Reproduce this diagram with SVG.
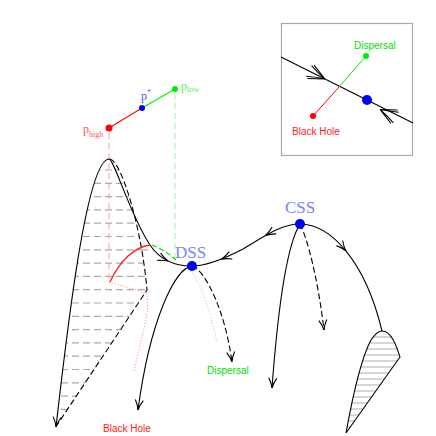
<svg xmlns="http://www.w3.org/2000/svg" xmlns:xlink="http://www.w3.org/1999/xlink" width="436" height="436" viewBox="0 0 436 436">
<style>
.c{fill:none;stroke:#000;stroke-width:1.1}
.d{fill:none;stroke:#000;stroke-width:1.1;stroke-dasharray:6 3}
.h{stroke:#aaa;stroke-width:1.2;stroke-dasharray:7 4}
.hs{stroke:#999;stroke-width:0.8}
.sans{font-family:"Liberation Sans",Arial,sans-serif;font-size:10px}
.ser{font-family:"Liberation Serif","Times New Roman",serif}
.lbl{font-family:"Liberation Serif","Times New Roman",serif;font-size:17px;fill:#8080ff}
</style>
<defs>
<path id="ah" d="M-10,-4 Q-5,-1 0,0 Q-5,1 -10,4" fill="none" stroke="#000" stroke-width="1.1"/>
<path id="ahb" d="M-18,-6 Q-8,-2 0,0 Q-8,2 -18,6 M-16,-7.5 L0,0 M-16,7.5 L0,0" fill="none" stroke="#000" stroke-width="1"/>
<clipPath id="clipL"><path d="M56,427 C66,340 86,160 109,159 C122,162 142,230 147,290 Z"/></clipPath>
<clipPath id="clipR"><path d="M382,331 C392,331 397,348 400,357 L346,433 C352,400 360,360 371,340 C375,334 378,331 382,331 Z"/></clipPath>
</defs>

<g id="inset">
<rect x="281.5" y="23.5" width="131" height="132" fill="#fff" stroke="#aaa" stroke-width="1.2"/>
<line x1="281" y1="57" x2="413" y2="123" stroke="#000" stroke-width="1.1"/>
<use xlink:href="#ahb" href="#ahb" transform="translate(325,79) rotate(26.6)"/>
<use xlink:href="#ahb" href="#ahb" transform="translate(380,109.5) rotate(206.6)"/>
<line x1="313" y1="116" x2="339.3" y2="86.7" stroke="#ff0000" stroke-width="1"/>
<line x1="339.3" y1="86.7" x2="366" y2="56" stroke="#00ee00" stroke-width="1"/>
<circle cx="313" cy="116" r="3" fill="#ff0000"/>
<circle cx="366" cy="56" r="3" fill="#00ee00"/>
<circle cx="367" cy="100" r="5" fill="#0000ff"/>
<text class="sans" x="354" y="49" fill="#00dd00">Dispersal</text>
<text class="sans" x="292" y="135" fill="#ff2020">Black Hole</text>
</g>

<g id="hatchL" clip-path="url(#clipL)">
<line class="h" x1="50" y1="170" x2="160" y2="170"/>
<line class="h" x1="50" y1="183.3" x2="160" y2="183.3"/>
<line class="h" x1="50" y1="196.6" x2="160" y2="196.6"/>
<line class="h" x1="50" y1="209.9" x2="160" y2="209.9"/>
<line class="h" x1="50" y1="223.2" x2="160" y2="223.2"/>
<line class="h" x1="50" y1="236.5" x2="160" y2="236.5"/>
<line class="h" x1="50" y1="249.8" x2="160" y2="249.8"/>
<line class="h" x1="50" y1="263.1" x2="160" y2="263.1"/>
<line class="h" x1="50" y1="276.4" x2="160" y2="276.4"/>
<line class="h" x1="50" y1="289.7" x2="160" y2="289.7"/>
<line class="h" x1="50" y1="303" x2="160" y2="303"/>
<line class="h" x1="50" y1="316.3" x2="160" y2="316.3"/>
<line class="h" x1="50" y1="329.6" x2="160" y2="329.6"/>
<line class="h" x1="50" y1="342.9" x2="160" y2="342.9"/>
<line class="h" x1="50" y1="356.2" x2="160" y2="356.2"/>
<line class="h" x1="50" y1="369.5" x2="160" y2="369.5"/>
<line class="h" x1="50" y1="382.8" x2="160" y2="382.8"/>
<line class="h" x1="50" y1="396.1" x2="160" y2="396.1"/>
<line class="h" x1="50" y1="409.4" x2="160" y2="409.4"/>
</g>
<line class="h" x1="141" y1="249.8" x2="150" y2="249.8"/>

<g id="hatchR" clip-path="url(#clipR)">
<line class="hs" x1="340" y1="337" x2="405" y2="337"/>
<line class="hs" x1="340" y1="343" x2="405" y2="343"/>
<line class="hs" x1="340" y1="349" x2="405" y2="349"/>
<line class="hs" x1="340" y1="355" x2="405" y2="355"/>
<line class="hs" x1="340" y1="361" x2="405" y2="361"/>
<line class="hs" x1="340" y1="367" x2="405" y2="367"/>
<line class="hs" x1="340" y1="373" x2="405" y2="373"/>
<line class="hs" x1="340" y1="379" x2="405" y2="379"/>
<line class="hs" x1="340" y1="385" x2="405" y2="385"/>
<line class="hs" x1="340" y1="391" x2="405" y2="391"/>
<line class="hs" x1="340" y1="397" x2="405" y2="397"/>
<line class="hs" x1="340" y1="403" x2="405" y2="403"/>
<line class="hs" x1="340" y1="409" x2="405" y2="409"/>
<line class="hs" x1="340" y1="415" x2="405" y2="415"/>
<line class="hs" x1="340" y1="421" x2="405" y2="421"/>
<line class="hs" x1="340" y1="427" x2="405" y2="427"/>
</g>

<g id="guides">
<line x1="109" y1="133" x2="109" y2="282" stroke="#f4a0a0" stroke-width="1" stroke-dasharray="6 4"/>
<line x1="175" y1="93" x2="175" y2="262" stroke="#a8eea8" stroke-width="1" stroke-dasharray="6 4"/>
<path d="M109,282 L146,293 C152,310 140,340 134,372" fill="none" stroke="#ff8080" stroke-width="1" stroke-dasharray="1 2"/>
<path d="M190,271 C200,280 210,310 217,343" fill="none" stroke="#80ee80" stroke-width="1" stroke-dasharray="1 2"/>
</g>

<g id="connectors">
<path class="c" d="M56,427 C66,340 86,160 109,159 C114,159 130,215 150,245 C160,260 175,266 192,266 C205,266 220,261 243,249 C262,238 280,224 300,224 C330,224 365,260 382,331"/>
<path class="d" d="M110,159 C122,162 142,230 147,290 L57,425"/>
<path class="c" d="M382,331 C392,331 397,348 400,357 L346,433 C352,400 360,360 371,340 C375,334 378,331 382,331"/>
<path class="c" d="M300,224 C290,240 280,280 272,388"/>
<path class="d" d="M300,224 C308,240 318,280 324,330"/>
<path class="c" d="M192,266 C175,268 150,320 138,410"/>
<path class="d" d="M192,266 C205,270 225,310 232,362"/>
<path d="M110,282 C120,260 135,247 150,245" fill="none" stroke="#ff2020" stroke-width="1.4"/>
<path d="M152,245 C160,248 168,253 176,260" fill="none" stroke="#00dd00" stroke-width="1.2" stroke-dasharray="5 3"/>
<use xlink:href="#ah" href="#ah" transform="translate(168,261) rotate(25)"/>
<use xlink:href="#ah" href="#ah" transform="translate(221.5,259.1) rotate(158)"/>
<use xlink:href="#ah" href="#ah" transform="translate(265.5,235.4) rotate(150)"/>
<use xlink:href="#ah" href="#ah" transform="translate(345.9,250.8) rotate(50.5)"/>
<use xlink:href="#ah" href="#ah" transform="translate(272,388) rotate(94.2)"/>
<use xlink:href="#ah" href="#ah" transform="translate(324,330) rotate(83.2)"/>
<use xlink:href="#ah" href="#ah" transform="translate(138,410) rotate(97.6)"/>
<use xlink:href="#ah" href="#ah" transform="translate(232,362) rotate(82.3)"/>
<use xlink:href="#ah" href="#ah" transform="translate(56,427) rotate(96.6)"/>
</g>

<g id="pline">
<line x1="109" y1="128" x2="142" y2="108" stroke="#ff0000" stroke-width="1.1"/>
<line x1="142" y1="108" x2="175" y2="89" stroke="#00ee00" stroke-width="1.1"/>
</g>
<g id="p-high">
<circle cx="109" cy="128" r="3.5" fill="#ff0000"/>
<text class="ser" x="83" y="133" font-size="12" fill="#ff5555">p<tspan font-size="8" dy="4">high</tspan></text>
</g>
<g id="p-star">
<circle cx="142" cy="108" r="3" fill="#0000ff"/>
<text class="ser" x="141" y="100" font-size="12" fill="#5555ff">p<tspan font-size="8" dy="-5">*</tspan></text>
</g>
<g id="p-low">
<circle cx="175" cy="89" r="3" fill="#00ee00"/>
<text class="ser" x="181" y="90" font-size="12" fill="#55ee55">p<tspan font-size="8" dy="2">low</tspan></text>
</g>

<g id="DSS">
<circle cx="192" cy="266" r="5" fill="#0000ff"/>
<text class="lbl" x="175" y="258">DSS</text>
</g>
<g id="CSS">
<circle cx="300" cy="224" r="5" fill="#0000ff"/>
<text class="lbl" x="285" y="213">CSS</text>
</g>

<text class="sans" x="207" y="374" fill="#00dd00">Dispersal</text>
<text class="sans" x="103" y="432" fill="#ff2020">Black Hole</text>
</svg>
